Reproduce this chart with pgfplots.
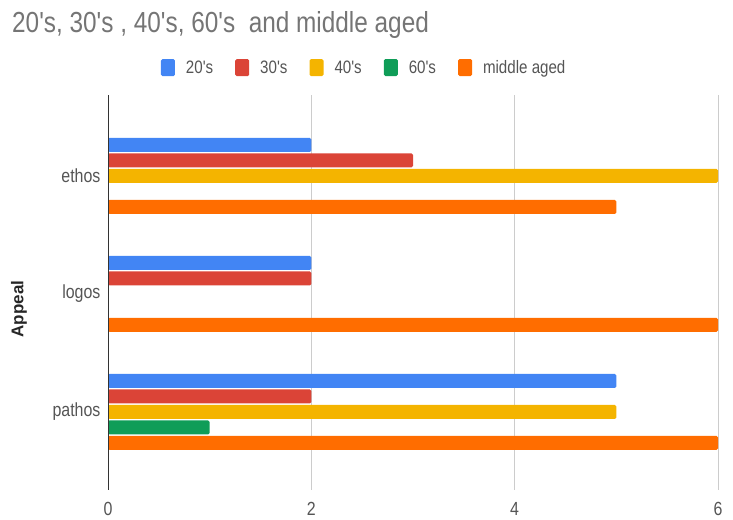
\documentclass[border=0pt]{standalone}
\usepackage{fontspec}
\setmainfont{Liberation Sans}[FakeStretch=0.84, Ligatures=TeXOff]
\newfontfamily\labelfont{Liberation Sans}
\usepackage{pgfplots}
\pgfplotsset{compat=1.18}

\definecolor{cBlue}{HTML}{4285F4}
\definecolor{cRed}{HTML}{DB4437}
\definecolor{cYellow}{HTML}{F4B400}
\definecolor{cGreen}{HTML}{0F9D58}
\definecolor{cOrange}{HTML}{FF6D00}
\definecolor{titlegray}{HTML}{757575}
\definecolor{labelgray}{HTML}{555555}
\definecolor{gridgray}{HTML}{CCCCCC}
\definecolor{axisgray}{HTML}{333333}

% categories: pathos = 0, logos = 1, ethos = 2
\begin{document}
\begin{tikzpicture}
\useasboundingbox (0pt,0pt) rectangle (733pt,519pt);
\begin{axis}[
  at={(108pt,29pt)}, anchor=south west,
  scale only axis,
  width=610pt, height=395pt,
  xmin=0, xmax=6,
  ymin=-0.661, ymax=2.686,
  xtick={0,2,4,6},
  ytick={0,1,2},
  yticklabels={pathos,logos,ethos},
  major tick length=0pt,
  axis line style={draw=none},
  xmajorgrids,
  grid style={gridgray, line width=0.9pt},
  /pgf/number format/assume math mode=true,
  tick label style={font=\fontsize{19}{22}\selectfont, text=labelgray},
  xticklabel style={yshift=-9pt},
  yticklabel style={xshift=-4pt},
  xbar,
  bar width=14pt,
  legend columns=-1,
  legend style={at={(0.42,1)}, anchor=south, yshift=16pt, draw=none, fill=none,
    font=\fontsize{18}{20}\selectfont, text=labelgray,
    /tikz/every even column/.append style={column sep=20pt},
    /tikz/every odd column/.append style={column sep=9pt}},
  legend image code/.code={\fill[#1, draw=none, rounded corners=1.5pt] (0pt,-8.5pt) rectangle (14pt,8.5pt);},
]
\addplot[fill=cBlue, draw=none, bar shift=31pt, rounded corners=1.5pt]
  coordinates {(5,0) (2,1) (2,2)};
\addlegendentry{20's}
\addplot[fill=cRed, draw=none, bar shift=15.5pt, rounded corners=1.5pt]
  coordinates {(2,0) (2,1) (3,2)};
\addlegendentry{30's}
\addplot[fill=cYellow, draw=none, bar shift=0pt, rounded corners=1.5pt]
  coordinates {(5,0) (6,2)};
\addlegendentry{40's}
\addplot[fill=cGreen, draw=none, bar shift=-15.5pt, rounded corners=1.5pt]
  coordinates {(1,0)};
\addlegendentry{60's}
\addplot[fill=cOrange, draw=none, bar shift=-31pt, rounded corners=1.5pt]
  coordinates {(6,0) (6,1) (5,2)};
\addlegendentry{middle aged}
% value axis line at zero
\draw[axisgray, line width=1pt] (axis cs:0,-0.661) -- (axis cs:0,2.686);
\end{axis}
\node[anchor=base west, inner sep=0pt, text=titlegray, font=\fontsize{29}{32}\selectfont]
  at (12pt,486pt) {20's, 30's , 40's, 60's\ \ and middle aged};
\node[rotate=90, text=black!85, font=\labelfont\bfseries\fontsize{17}{20}\selectfont]
  at (19pt,210pt) {Appeal};
\end{tikzpicture}
\end{document}
